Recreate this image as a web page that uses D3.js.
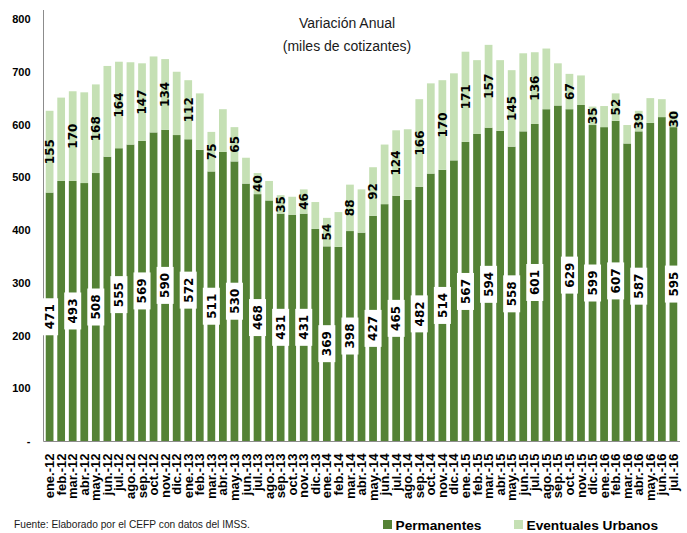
<!DOCTYPE html>
<html>
<head>
<meta charset="utf-8">
<script src="https://cdn.jsdelivr.net/npm/d3@7"></script>
<style>
  html, body { margin: 0; padding: 0; background: #fff; }
  svg { display: block; }
</style>
</head>
<body>
<svg id="chart" width="687" height="533"></svg>
<script>
const categories = [
  "ene.-12","feb.-12","mar.-12","abr.-12","may.-12","jun.-12","jul.-12","ago.-12","sep.-12","oct.-12","nov.-12","dic.-12",
  "ene.-13","feb.-13","mar.-13","abr.-13","may.-13","jun.-13","jul.-13","ago.-13","sep.-13","oct.-13","nov.-13","dic.-13",
  "ene.-14","feb.-14","mar.-14","abr.-14","may.-14","jun.-14","jul.-14","ago.-14","sep.-14","oct.-14","nov.-14","dic.-14",
  "ene.-15","feb.-15","mar.-15","abr.-15","may.-15","jun.-15","jul.-15","ago.-15","sep.-15","oct.-15","nov.-15","dic.-15",
  "ene.-16","feb.-16","mar.-16","abr.-16","may.-16","jun.-16","jul.-16"
];
const permanentes = [
  471,493,493,489,508,539,555,562,569,585,590,580,
  572,552,511,548,530,488,468,456,431,429,431,402,
  369,368,398,395,427,449,465,457,482,507,514,532,
  567,582,594,588,558,587,601,629,636,629,637,599,
  595,607,564,587,603,614,595
];
const eventuales = [
  155,158,170,172,168,172,164,156,147,144,134,120,
  112,107,75,81,65,49,40,37,35,34,46,51,
  54,66,88,82,92,113,124,134,166,171,170,165,
  171,140,157,134,145,148,136,115,80,67,56,35,
  40,52,35,39,47,34,30
];
const labeledMonths = [
  "ene.-12","mar.-12","may.-12","jul.-12","sep.-12","nov.-12",
  "ene.-13","mar.-13","may.-13","jul.-13","sep.-13","nov.-13",
  "ene.-14","mar.-14","may.-14","jul.-14","sep.-14","nov.-14",
  "ene.-15","mar.-15","may.-15","jul.-15","oct.-15","dic.-15",
  "feb.-16","abr.-16","jul.-16"
];
const yTicks = [0,100,200,300,400,500,600,700,800];
const seriesNames = ["Permanentes","Eventuales Urbanos"];
const colors = ["#548235","#c5e0b4"];
const titleLines = ["Variación Anual","(miles de cotizantes)"];
const source = "Fuente: Elaborado por el CEFP con datos del IMSS.";

const svg = d3.select("#chart");
const x = d3.scaleBand().domain(categories).range([44, 679]).paddingInner(0.33).paddingOuter(0.15);
const y = d3.scaleLinear().domain([0, 800]).range([441, 19]);

const rows = categories.map((c, i) => ({cat: c, p: permanentes[i], e: eventuales[i]}));

// bars
svg.append("g").selectAll("rect").data(rows).join("rect")
  .attr("x", d => x(d.cat)).attr("width", x.bandwidth())
  .attr("y", d => y(d.p)).attr("height", d => y(0) - y(d.p))
  .attr("fill", colors[0]);
svg.append("g").selectAll("rect").data(rows).join("rect")
  .attr("x", d => x(d.cat)).attr("width", x.bandwidth())
  .attr("y", d => y(d.p + d.e)).attr("height", d => y(d.p) - y(d.p + d.e))
  .attr("fill", colors[1]);

// y axis
const yAxis = d3.axisLeft(y).tickValues(yTicks).tickSize(0).tickPadding(13)
  .tickFormat(d => d === 0 ? "-" : d);
const gy = svg.append("g").attr("transform", "translate(43.5,0)").call(yAxis);
gy.select(".domain").attr("stroke", "#8c8c8c").attr("d", "M0,10V441.5");
gy.selectAll("text").attr("font-family", "Liberation Sans, Arial, sans-serif")
  .attr("font-weight", "bold").attr("font-size", 11).attr("fill", "#000");

// x axis
const xAxis = d3.axisBottom(x).tickSize(0).tickPadding(0);
const gx = svg.append("g").attr("transform", "translate(0,441.5)").call(xAxis);
gx.select(".domain").attr("stroke", "#8c8c8c").attr("d", "M43.5,0H680");
gx.selectAll("text")
  .attr("font-family", "Liberation Sans, Arial, sans-serif")
  .attr("font-weight", "bold").attr("font-size", 13).attr("fill", "#000")
  .attr("text-anchor", "end")
  .attr("transform", "rotate(-90)")
  .attr("x", -12).attr("y", 0).attr("dy", "0.35em");

// labels
const lab = rows.filter(d => labeledMonths.includes(d.cat));
const lblFont = "DejaVu Sans, Verdana, sans-serif";
const pg = svg.append("g").selectAll("g").data(lab).join("g")
  .attr("transform", d => `translate(${x(d.cat) + x.bandwidth()/2},${(y(0) + y(d.p))/2})`);
pg.append("rect").attr("x", -8.5).attr("y", -18.5).attr("width", 17).attr("height", 37).attr("fill", "#fff");
pg.append("text").attr("transform", "rotate(-90)").attr("text-anchor", "middle").attr("dy", "0.36em")
  .attr("font-family", lblFont).attr("font-weight", "bold").attr("font-size", 12).attr("fill", "#000")
  .text(d => d.p);

svg.append("g").selectAll("text").data(lab).join("text")
  .attr("transform", d => `translate(${x(d.cat) + x.bandwidth()/2},${(y(d.p) + y(d.p + d.e))/2}) rotate(-90)`)
  .attr("text-anchor", "middle").attr("dy", "0.36em")
  .attr("font-family", lblFont).attr("font-weight", "bold").attr("font-size", 12).attr("fill", "#000")
  .text(d => d.e);

// title
svg.append("g").selectAll("text").data(titleLines).join("text")
  .attr("x", 347).attr("y", (d, i) => 28 + i * 23)
  .attr("text-anchor", "middle")
  .attr("font-family", "Liberation Sans, Arial, sans-serif").attr("font-size", 14).attr("fill", "#1a1a1a")
  .text(d => d);

// legend
const legX = [383, 514];
const lg = svg.append("g").selectAll("g").data(seriesNames).join("g")
  .attr("transform", (d, i) => `translate(${legX[i]},520)`);
lg.append("rect").attr("width", 9).attr("height", 9).attr("fill", (d, i) => colors[i]);
lg.append("text").attr("x", 12.5).attr("y", 9.5)
  .attr("font-family", "Liberation Sans, Arial, sans-serif").attr("font-weight", "bold").attr("font-size", 13.7)
  .attr("fill", "#000").text(d => d);

// source
svg.append("text").attr("x", 14).attr("y", 528)
  .attr("font-family", "Liberation Sans, Arial, sans-serif").attr("font-size", 10.2).attr("fill", "#1a1a1a")
  .text(source);
</script>
</body>
</html>
